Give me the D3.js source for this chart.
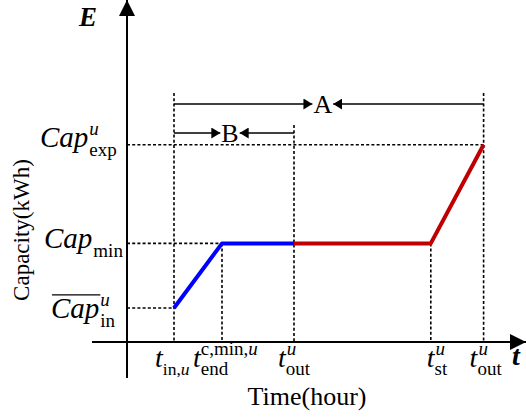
<!DOCTYPE html>
<html>
<head>
<meta charset="utf-8">
<script src="https://cdn.jsdelivr.net/npm/d3@7"></script>
<style>
  html, body { margin: 0; padding: 0; background: #fff; }
  svg { display: block; }
  text { font-family: "Liberation Serif", "Times New Roman", serif; fill: #000; }
</style>
</head>
<body>
<svg id="chart" width="526" height="418"></svg>
<script>
// Key instants of the charging session (hours)
const timeKeys = ["tIn", "tEnd", "tOut", "tSt", "tOut2"];
const timeValues = [1, 2, 3.5, 6.35, 7.45];

// Capacity levels (kWh)
const capKeys = ["capIn", "capMin", "capExp"];
const capValues = [1, 2.9, 5.8];

// Charging profile: blue = initial charging to the minimum, red = later part
const blueTimes = [1, 2, 3.5];
const blueCaps = [1, 2.9, 2.9];
const redTimes = [3.5, 6.35, 7.45];
const redCaps = [2.9, 2.9, 5.8];

const T = Object.fromEntries(timeKeys.map((k, i) => [k, timeValues[i]]));
const C = Object.fromEntries(capKeys.map((k, i) => [k, capValues[i]]));

const svg = d3.select("#chart");
const x = d3.scaleLinear().domain([0, 8]).range([126, 510]);
const y = d3.scaleLinear().domain([0, 10]).range([342, 2]);

const x0 = 127, y0 = 342;

// arrow markers
const defs = svg.append("defs");
function marker(id, w, h) {
  defs.append("marker").attr("id", id)
    .attr("viewBox", `0 0 ${w} ${h}`).attr("refX", w).attr("refY", h / 2)
    .attr("markerWidth", w).attr("markerHeight", h)
    .attr("markerUnits", "userSpaceOnUse").attr("orient", "auto")
    .append("path").attr("d", `M0,0L${w},${h / 2}L0,${h}Z`).attr("fill", "#000");
}
marker("axisHead", 16, 16);
marker("smallHead", 9, 11);

// dotted guide lines
const guides = svg.append("g").attr("stroke", "#000").attr("stroke-width", 1.6)
  .attr("stroke-dasharray", "3,2.2").attr("fill", "none");
const hLines = [[C.capExp, T.tOut2], [C.capMin, T.tEnd], [C.capIn, T.tIn]];
hLines.forEach(([c, t]) => guides.append("line")
  .attr("x1", x0).attr("x2", x(t)).attr("y1", y(c)).attr("y2", y(c)));
const vLines = [[T.tIn, 93], [T.tOut, 125], [T.tOut2, 93], [T.tEnd, null], [T.tSt, null]];
vLines.forEach(([t, top]) => guides.append("line")
  .attr("x1", x(t)).attr("x2", x(t))
  .attr("y1", top == null ? y(C.capMin) : top).attr("y2", y0));

// axes
svg.append("line").attr("x1", x0).attr("x2", x0).attr("y1", 378).attr("y2", 0)
  .attr("stroke", "#000").attr("stroke-width", 2).attr("marker-end", "url(#axisHead)");
svg.append("line").attr("x1", 92).attr("x2", 526).attr("y1", y0).attr("y2", y0)
  .attr("stroke", "#000").attr("stroke-width", 2).attr("marker-end", "url(#axisHead)");

// profile lines
const line = d3.line().x(d => x(d[0])).y(d => y(d[1]));
svg.append("path").datum(redTimes.map((t, i) => [t, redCaps[i]]))
  .attr("d", line).attr("fill", "none").attr("stroke", "#C00000")
  .attr("stroke-width", 4).attr("stroke-linejoin", "round");
svg.append("path").datum(blueTimes.map((t, i) => [t, blueCaps[i]]))
  .attr("d", line).attr("fill", "none").attr("stroke", "#0000FF")
  .attr("stroke-width", 4).attr("stroke-linejoin", "round");

// A and B interval arrows (label sits slightly left of the span centre)
function interval(t1, t2, yy, label, size, shift) {
  const a = x(t1), b = x(t2), m = (a + b) / 2 + shift;
  const g = svg.append("g");
  const t = g.append("text").attr("x", m).attr("y", yy + size * 0.34)
    .attr("text-anchor", "middle").attr("font-size", size).text(label);
  const half = t.node().getComputedTextLength() / 2 + 1;
  g.append("line").attr("x1", a).attr("x2", m - half).attr("y1", yy).attr("y2", yy)
    .attr("stroke", "#000").attr("stroke-width", 1.6).attr("marker-end", "url(#smallHead)");
  g.append("line").attr("x1", b).attr("x2", m + half).attr("y1", yy).attr("y2", yy)
    .attr("stroke", "#000").attr("stroke-width", 1.6).attr("marker-end", "url(#smallHead)");
}
interval(T.tIn, T.tOut2, 104, "A", 26, -6);
interval(T.tIn, T.tOut, 133, "B", 26, -4);

// math-style label: italic base with optional superscript / subscript
function mathLabel(opts) {
  const g = svg.append("g");
  const base = g.append("text").attr("x", opts.x).attr("y", opts.y)
    .attr("font-size", opts.size).attr("font-style", "italic").text(opts.base);
  const w = base.node().getComputedTextLength();
  const end = opts.x + w;
  if (opts.over) {
    g.append("line").attr("x1", opts.x + 1).attr("x2", end + 1)
      .attr("y1", opts.y - opts.size * 0.8).attr("y2", opts.y - opts.size * 0.8)
      .attr("stroke", "#000").attr("stroke-width", 1.3);
  }
  const subSize = opts.subSize;
  if (opts.sup) {
    const s = g.append("text").attr("x", end + (opts.supDx || 0)).attr("y", opts.y - opts.size * 0.42)
      .attr("font-size", subSize);
    opts.sup.forEach(p => s.append("tspan").attr("font-style", p[1] ? "italic" : "normal").text(p[0]));
  }
  if (opts.sub) {
    const s = g.append("text").attr("x", end + (opts.subDx || 0)).attr("y", opts.y + opts.size * 0.3)
      .attr("font-size", opts.subSizeLow || subSize);
    opts.sub.forEach(p => s.append("tspan").attr("font-style", p[1] ? "italic" : "normal").text(p[0]));
  }
}

// y-axis level labels
mathLabel({ x: 40, y: y(C.capExp) + 2, size: 29, subSize: 19, base: "Cap",
  sup: [["u", true]], supDx: 1, sub: [["exp", false]], subDx: 1 });
mathLabel({ x: 44, y: y(C.capMin) + 5, size: 29, subSize: 19, base: "Cap",
  sub: [["min", false]], subDx: 1 });
mathLabel({ x: 51, y: y(C.capIn) + 10, size: 29, subSize: 19, base: "Cap", over: true,
  sup: [["u", true]], supDx: 1, sub: [["in", false]], subDx: 1 });

// x-axis instant labels
const tl = 367;
mathLabel({ x: x(T.tIn) - 19, y: tl, size: 28, subSize: 19, subSizeLow: 17.5, base: "t",
  sub: [["in,", false], ["u", true]], subDx: 0 });
mathLabel({ x: x(T.tEnd) - 29, y: tl, size: 28, subSize: 19, base: "t",
  sup: [["c,min,", false], ["u", true]], supDx: 0, sub: [["end", false]], subDx: 0 });
mathLabel({ x: x(T.tOut) - 16, y: tl, size: 28, subSize: 19, base: "t",
  sup: [["u", true]], supDx: 1, sub: [["out", false]], subDx: 0 });
mathLabel({ x: x(T.tSt) - 4, y: tl, size: 28, subSize: 19, base: "t",
  sup: [["u", true]], supDx: 1, sub: [["st", false]], subDx: 0 });
mathLabel({ x: x(T.tOut2) - 14, y: tl, size: 28, subSize: 19, base: "t",
  sup: [["u", true]], supDx: 1, sub: [["out", false]], subDx: 0 });

// axis symbols
svg.append("text").attr("x", 79).attr("y", 26).attr("font-size", 27)
  .attr("font-weight", "bold").attr("font-style", "italic").text("E");
svg.append("text").attr("x", 512).attr("y", 365).attr("font-size", 28)
  .attr("font-weight", "bold").attr("font-style", "italic").text("t");

// axis titles
svg.append("text").attr("x", 307).attr("y", 405).attr("text-anchor", "middle")
  .attr("font-size", 26).text("Time(hour)");
svg.append("text").attr("transform", "translate(29,230) rotate(-90)")
  .attr("text-anchor", "middle").attr("font-size", 23).text("Capacity(kWh)");
</script>
</body>
</html>
